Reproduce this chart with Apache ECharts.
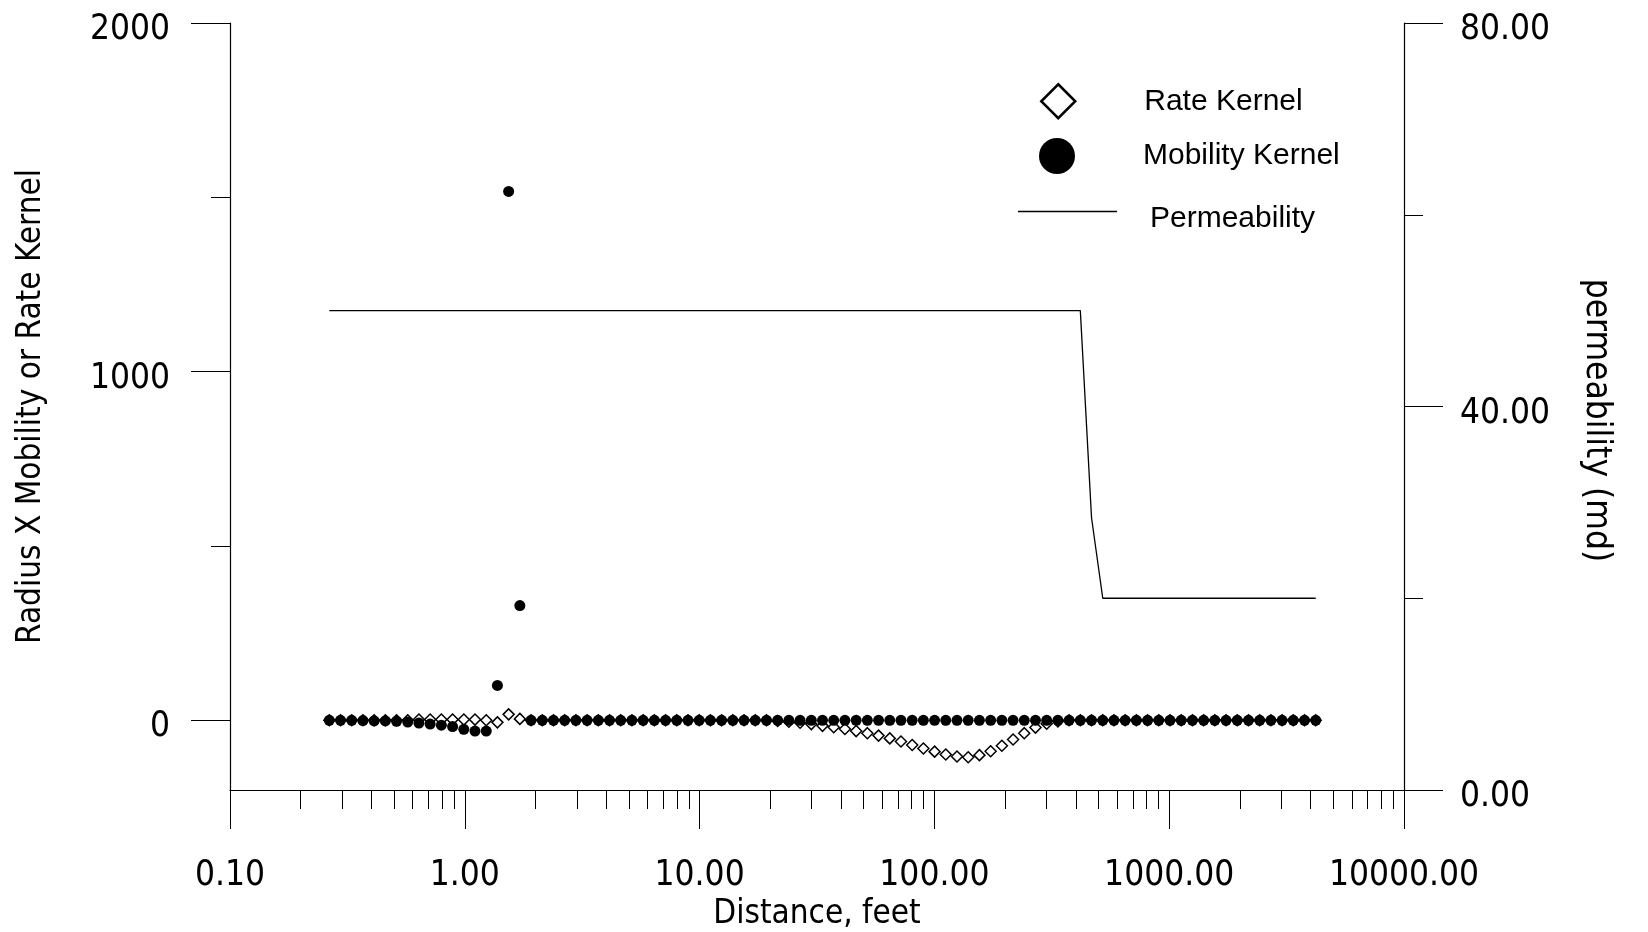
<!DOCTYPE html>
<html><head><meta charset="utf-8">
<script src="https://cdn.jsdelivr.net/npm/echarts@6/dist/echarts.min.js"></script>
<style>html,body{margin:0;padding:0;background:#fff}#c{width:1648px;height:932px}</style>
</head><body><div id="c"></div>
<script>
// Distance grid (feet)
const distance = [0.2648, 0.2956, 0.3299, 0.3682, 0.4110, 0.4587, 0.5120, 0.5714, 0.6378, 0.7118,
  0.7945, 0.8871, 0.9904, 1.105, 1.234, 1.377, 1.537, 1.716, 1.915, 2.138,
  2.386, 2.663, 2.973, 3.318, 3.704, 4.134, 4.614, 5.150, 5.748, 6.416,
  7.162, 7.993, 8.925, 9.961, 11.12, 12.41, 13.85, 15.46, 17.26, 19.27,
  21.50, 24.00, 26.79, 29.91, 33.38, 37.26, 41.58, 46.42, 51.81, 57.83,
  64.55, 72.04, 80.43, 89.77, 100.2, 111.8, 124.8, 139.3, 155.5, 173.6,
  193.8, 216.3, 241.4, 269.5, 300.8, 335.7, 374.7, 418.3, 466.9, 521.2,
  581.7, 649.3, 724.8, 809.0, 903.0, 1008, 1125, 1256, 1402, 1564,
  1746, 1949, 2176, 2429, 2711, 3026, 3377, 3770, 4207];
const rateKernel = [0, 0, 0, 0, 0, 0, 0, 0, 2, 2,
  2, 2, 2, 2, 0, -6, 17, 4, 0, 0,
  0, 0, 0, 0, 0, 0, 0, 0, 0, 0,
  0, 0, 0, 0, 0, 0, 0, 0, 0, 0,
  -2, -4, -7, -11, -16, -20, -25, -31, -37, -44,
  -52, -61, -71, -81, -90, -98, -104, -106, -100, -89,
  -73, -55, -37, -21, -10, -3, 0, 0, 0, 0,
  0, 0, 0, 0, 0, 0, 0, 0, 0, 0,
  0, 0, 0, 0, 0, 0, 0, 0, 0];
const mobilityKernel = [0, 0, 0, -1, -2, -2, -3, -5, -8, -11,
  -14, -18, -26, -31, -31, 100, 1517, 329, 0, 0,
  0, 0, 0, 0, 0, 0, 0, 0, 0, 0,
  0, 0, 0, 0, 0, 0, 0, 0, 0, 0,
  0, 0, 0, 0, 0, 0, 0, 0, 0, 0,
  0, 0, 0, 0, 0, 0, 0, 0, 0, 0,
  0, 0, 0, 0, 0, 0, 0, 0, 0, 0,
  0, 0, 0, 0, 0, 0, 0, 0, 0, 0,
  0, 0, 0, 0, 0, 0, 0, 0, 0];
const permeability = [50, 50, 50, 50, 50, 50, 50, 50, 50, 50,
  50, 50, 50, 50, 50, 50, 50, 50, 50, 50,
  50, 50, 50, 50, 50, 50, 50, 50, 50, 50,
  50, 50, 50, 50, 50, 50, 50, 50, 50, 50,
  50, 50, 50, 50, 50, 50, 50, 50, 50, 50,
  50, 50, 50, 50, 50, 50, 50, 50, 50, 50,
  50, 50, 50, 50, 50, 50, 50, 50, 28.4, 20,
  20, 20, 20, 20, 20, 20, 20, 20, 20, 20,
  20, 20, 20, 20, 20, 20, 20, 20, 20];
const xMajorTicks = [0.1, 1, 10, 100, 1000, 10000];
const xMinorTicks = [0.2, 0.3, 0.4, 0.5, 0.6, 0.7, 0.8, 0.9,
  2, 3, 4, 5, 6, 7, 8, 9,
  20, 30, 40, 50, 60, 70, 80, 90,
  200, 300, 400, 500, 600, 700, 800, 900,
  2000, 3000, 4000, 5000, 6000, 7000, 8000, 9000];
const leftMajorTicks = [0, 1000, 2000];
const leftMinorTicks = [500, 1500];
const rightMajorTicks = [0, 40, 80];
const rightMinorTicks = [20, 60];

const FONT = "'Liberation Sans Narrow','Arial Narrow','DejaVu Sans Condensed',sans-serif";
const FONT_REG = "'Liberation Sans',Arial,sans-serif";
const pair = ys => distance.map((x, i) => [x, ys[i]]);
const lineSt = {color: '#000', width: 1.2};
const tickSt = {color: '#000', width: 1};

const chart = echarts.init(document.getElementById('c'), null, {renderer: 'canvas'});
const option = {
  animation: false,
  backgroundColor: '#fff',
  grid: {left: 230, right: 244, top: 23, bottom: 142, containLabel: false, outerBoundsMode: 'none'},
  legend: [
    {data: ['Rate Kernel'], left: 1040, top: 83, itemWidth: 34, itemHeight: 34, padding: 0, selectedMode: false,
     itemStyle: {color: '#fff', borderColor: '#000', borderWidth: 2.5, opacity: 1},
     textStyle: {fontSize: 30, lineHeight: 30, fontFamily: FONT_REG, color: '#000', padding: [0, 0, 0, 64]}},
    {data: ['Mobility Kernel'], left: 1039, top: 138, itemWidth: 36, itemHeight: 36, padding: 0, selectedMode: false,
     itemStyle: {color: '#000', borderWidth: 0, opacity: 1},
     textStyle: {fontSize: 30, lineHeight: 30, fontFamily: FONT_REG, color: '#000', padding: [0, 0, 0, 63]}},
    {data: [{name: 'Permeability', icon: 'path://M0,0L100,0L100,1.4L0,1.4Z M0,16.6L0.01,16.6'}],
     left: 1018, top: 204, itemWidth: 99, itemHeight: 16.6, padding: 0, selectedMode: false,
     itemStyle: {color: '#000', borderWidth: 0, opacity: 1},
     textStyle: {fontSize: 30, lineHeight: 30, fontFamily: FONT_REG, color: '#000', padding: [0, 0, 0, 28]}}
  ],
  xAxis: [
    {type: 'log', logBase: 10, min: 0.1, max: 10000, position: 'bottom',
     axisLine: {show: true, onZero: false, lineStyle: lineSt},
     axisTick: {show: true, inside: false, length: 39, customValues: xMajorTicks, lineStyle: tickSt},
     axisLabel: {show: true, customValues: xMajorTicks, formatter: v => Number(v).toFixed(2), margin: 68,
                 fontSize: 35, fontFamily: FONT, color: '#000'},
     splitLine: {show: false}, minorTick: {show: false},
     name: 'Distance, feet', nameLocation: 'middle', nameGap: 104,
     nameTextStyle: {fontSize: 33, fontFamily: FONT, color: '#000'}},
    {type: 'log', logBase: 10, min: 0.1, max: 10000, position: 'bottom',
     axisLine: {show: false, onZero: false},
     axisTick: {show: true, inside: false, length: 19, customValues: xMinorTicks, lineStyle: tickSt},
     axisLabel: {show: false}, splitLine: {show: false}}
  ],
  yAxis: [
    {type: 'value', min: -200, max: 2000, position: 'left',
     axisLine: {show: true, onZero: false, lineStyle: lineSt},
     axisTick: {show: true, inside: false, length: 39, customValues: leftMajorTicks, lineStyle: tickSt},
     axisLabel: {show: true, customValues: leftMajorTicks, formatter: v => String(v), margin: 60,
                 fontSize: 35, fontFamily: FONT, color: '#000', verticalAlign: 'top', lineHeight: 14},
     splitLine: {show: false},
     name: 'Radius X Mobility or Rate Kernel', nameLocation: 'middle', nameGap: 182,
     nameTextStyle: {fontSize: 33, fontFamily: FONT, color: '#000'}},
    {type: 'value', min: -200, max: 2000, position: 'left',
     axisLine: {show: false, onZero: false},
     axisTick: {show: true, inside: false, length: 19, customValues: leftMinorTicks, lineStyle: tickSt},
     axisLabel: {show: false}, splitLine: {show: false}},
    {type: 'value', min: 0, max: 80, position: 'right',
     axisLine: {show: true, onZero: false, lineStyle: lineSt},
     axisTick: {show: true, inside: false, length: 39, customValues: rightMajorTicks, lineStyle: tickSt},
     axisLabel: {show: true, customValues: rightMajorTicks, formatter: v => Number(v).toFixed(2), margin: 56,
                 fontSize: 35, fontFamily: FONT, color: '#000', verticalAlign: 'top', lineHeight: 14},
     splitLine: {show: false},
     name: 'permeability (md)', nameLocation: 'middle', nameGap: 175, nameRotate: -90,
     nameTextStyle: {fontSize: 35, fontFamily: FONT, color: '#000', padding: [0, 0, 0, 28]}},
    {type: 'value', min: 0, max: 80, position: 'right',
     axisLine: {show: false, onZero: false},
     axisTick: {show: true, inside: false, length: 19, customValues: rightMinorTicks, lineStyle: tickSt},
     axisLabel: {show: false}, splitLine: {show: false}}
  ],
  series: [
    {name: 'Rate Kernel', type: 'scatter', xAxisIndex: 0, yAxisIndex: 0, symbol: 'diamond', symbolSize: 11, z: 2,
     itemStyle: {color: '#fff', borderColor: '#000', borderWidth: 1.5, opacity: 1}, data: pair(rateKernel)},
    {name: 'Mobility Kernel', type: 'scatter', xAxisIndex: 0, yAxisIndex: 0, symbol: 'circle', symbolSize: 11, z: 3,
     itemStyle: {color: '#000', opacity: 1}, data: pair(mobilityKernel)},
    {name: 'Permeability', type: 'line', xAxisIndex: 0, yAxisIndex: 2, symbol: 'none', z: 1,
     itemStyle: {color: '#000'}, lineStyle: {color: '#000', width: 1.3}, data: pair(permeability)}
  ]
};
chart.setOption(option);
</script></body></html>
